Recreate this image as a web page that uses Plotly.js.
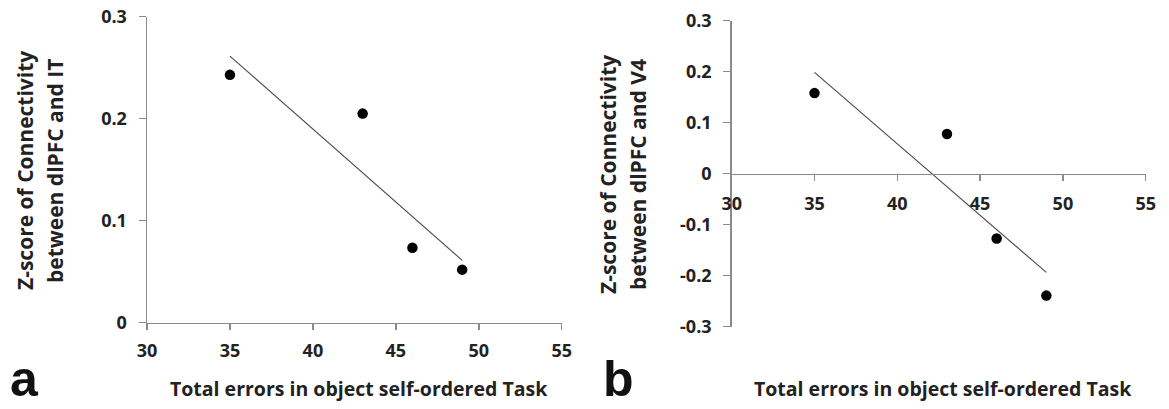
<!DOCTYPE html>
<html><head><meta charset="utf-8">
<script src="https://cdn.plot.ly/plotly-3.0.1.min.js"></script>
<style>html,body{margin:0;padding:0;background:#fff}#chart{width:1169px;height:409px}</style>
</head><body><div id="chart"></div>
<script>
// ---- data ----
const errors = [35, 43, 46, 49];
const zIT = [0.243, 0.205, 0.0735, 0.052];
const zV4 = [0.158, 0.078, -0.127, -0.239];
const xTicks = [30, 35, 40, 45, 50, 55];
const yTicksA = [0, 0.1, 0.2, 0.3];
const yTickTextA = ['0', '0.1', '0.2', '0.3'];
const yTicksB = [-0.3, -0.2, -0.1, 0, 0.1, 0.2, 0.3];
const yTickTextB = ['-0.3', '-0.2', '-0.1', '0', '0.1', '0.2', '0.3'];
const xTitle = 'Total errors in object self-ordered Task';
const yTitleA = ['Z-score of Connectivity', 'between dlPFC and IT'];
const yTitleB = ['Z-score of Connectivity', 'between dlPFC and V4'];
const panelLabels = ['a', 'b'];

// least-squares trendline over the data range
function trend(x, y) {
  const n = x.length;
  const mx = x.reduce((a, b) => a + b, 0) / n;
  const my = y.reduce((a, b) => a + b, 0) / n;
  let sxy = 0, sxx = 0;
  for (let i = 0; i < n; i++) { sxy += (x[i] - mx) * (y[i] - my); sxx += (x[i] - mx) ** 2; }
  const m = sxy / sxx, c = my - m * mx;
  const xs = [Math.min(...x), Math.max(...x)];
  return { x: xs, y: xs.map(v => m * v + c) };
}

const W = 1169, H = 409;
const px = v => v / W, py = v => 1 - v / H;

const FONT = 'Open Sans, Lato, sans-serif';
const GREY = '#8a8a8a';
const LINE = '#4a4a4a';
const tickFont = { family: FONT, size: 18, color: '#222', weight: 700 };

const tA = trend(errors, zIT), tB = trend(errors, zV4);

const traces = [
  { x: tA.x, y: tA.y, mode: 'lines', line: { color: LINE, width: 1.1 }, xaxis: 'x', yaxis: 'y', hoverinfo: 'skip' },
  { x: errors, y: zIT, mode: 'markers', marker: { color: '#000', size: 10.5 }, xaxis: 'x', yaxis: 'y', cliponaxis: false },
  { x: tB.x, y: tB.y, mode: 'lines', line: { color: LINE, width: 1.1 }, xaxis: 'x2', yaxis: 'y2', hoverinfo: 'skip' },
  { x: errors, y: zV4, mode: 'markers', marker: { color: '#000', size: 10.5 }, xaxis: 'x2', yaxis: 'y2', cliponaxis: false }
];

const yDomB = [py(326.7), py(20.7)];
const axBase = {
  showgrid: false, zeroline: false, showline: true, linecolor: GREY, linewidth: 1.5,
  ticks: 'outside', tickcolor: GREY, tickwidth: 1.5, tickfont: tickFont, fixedrange: true
};

const titleFont = { family: FONT, size: 19.5, color: '#222', weight: 700 };
const yTitleFont = { family: FONT, size: 21, color: '#222', weight: 700 };
const labelFont = { family: 'Liberation Sans, Arial, sans-serif', size: 50, color: '#111', weight: 700 };

const layout = {
  width: W, height: H, showlegend: false,
  paper_bgcolor: '#fff', plot_bgcolor: 'rgba(0,0,0,0)',
  margin: { l: 0, r: 0, t: 0, b: 0 },
  xaxis: Object.assign({}, axBase, { domain: [px(147), px(561.7)], range: [30, 55], tickvals: xTicks, ticklen: 6, anchor: 'y', ticklabelstandoff: 5 }),
  yaxis: Object.assign({}, axBase, { domain: [py(322.7), py(16.7)], range: [0, 0.3], tickvals: yTicksA, ticktext: yTickTextA, ticklen: 7, anchor: 'x', ticklabelstandoff: 8 }),
  xaxis2: Object.assign({}, axBase, { domain: [px(731.7), px(1145.7)], range: [30, 55], tickvals: xTicks, ticklen: 6, anchor: 'free', position: (yDomB[0] + yDomB[1]) / 2, ticklabelstandoff: 7 }),
  yaxis2: Object.assign({}, axBase, { domain: yDomB, range: [-0.3, 0.3], tickvals: yTicksB, ticktext: yTickTextB, ticklen: 7, anchor: 'x2', ticklabelstandoff: 8 }),
  annotations: [
    { text: yTitleA[0], x: px(25), y: py(171), textangle: -90, font: yTitleFont },
    { text: yTitleA[1], x: px(55), y: py(171), textangle: -90, font: yTitleFont },
    { text: yTitleB[0], x: px(608), y: py(175), textangle: -90, font: yTitleFont },
    { text: yTitleB[1], x: px(638), y: py(175), textangle: -90, font: yTitleFont },
    { text: xTitle, x: px(359), y: py(388), font: titleFont },
    { text: xTitle, x: px(943), y: py(388), font: titleFont },
    { text: panelLabels[0], x: px(24), y: 0, yanchor: 'bottom', font: labelFont },
    { text: panelLabels[1], x: px(618), y: 0, yanchor: 'bottom', font: labelFont }
  ].map(a => Object.assign({ xref: 'paper', yref: 'paper', showarrow: false, xanchor: 'center', yanchor: 'middle' }, a))
};

Plotly.newPlot('chart', traces, layout, { displayModeBar: false, staticPlot: true });
</script>
</body></html>
